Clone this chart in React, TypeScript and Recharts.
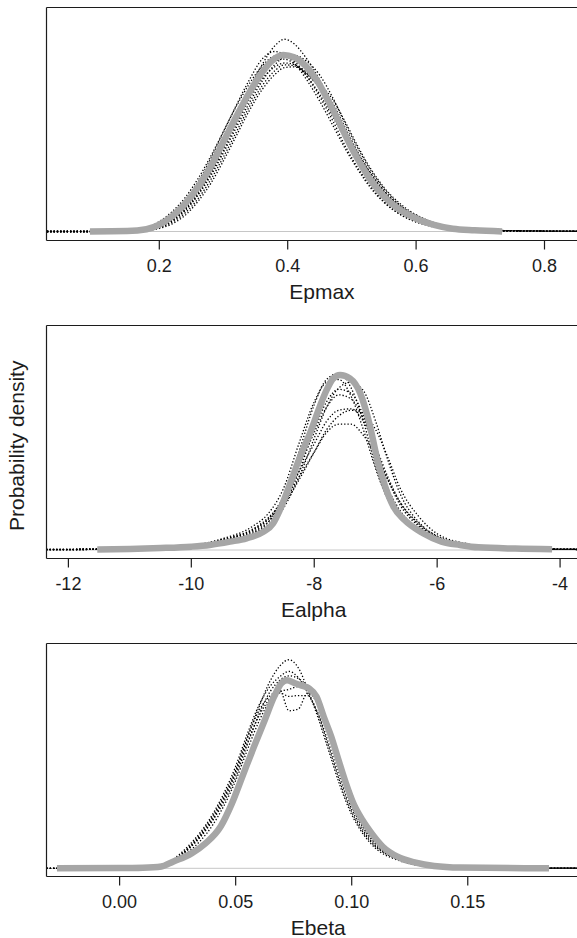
import React from "react";
import { LineChart, Line, XAxis, YAxis, ReferenceLine } from "recharts";

const FONT = "Arial, 'Liberation Sans', Helvetica, sans-serif";
const INK = "#1c1c1c";
const POSTERIOR = "#a6a6a6";

// ---- Epmax ----
const epmaxTicks = [0.2, 0.4, 0.6, 0.8];
const epmaxPostX = [0.092, 0.15, 0.18, 0.2, 0.22, 0.24, 0.26, 0.28, 0.3, 0.32, 0.34, 0.36, 0.375, 0.393, 0.41, 0.428, 0.445, 0.462, 0.479, 0.496, 0.513, 0.531, 0.548, 0.571, 0.6, 0.628, 0.657, 0.691, 0.734];
const epmaxPostY = [0, 0.01, 0.06, 0.18, 0.4, 0.72, 1.15, 1.7, 2.35, 3.0, 3.62, 4.15, 4.45, 4.61, 4.55, 4.32, 3.96, 3.45, 2.89, 2.3, 1.78, 1.3, 0.95, 0.61, 0.34, 0.17, 0.07, 0.03, 0];
const epmaxGrid = [0.025, 0.1, 0.15, 0.18, 0.2, 0.22, 0.24, 0.26, 0.28, 0.3, 0.32, 0.34, 0.36, 0.38, 0.395, 0.41, 0.43, 0.45, 0.47, 0.49, 0.51, 0.53, 0.55, 0.58, 0.62, 0.66, 0.72, 0.917];
const epmaxRun1 = [0, 0, 0.01, 0.05, 0.13, 0.3, 0.58, 1.0, 1.55, 2.2, 2.95, 3.7, 4.35, 4.85, 5.02, 4.9, 4.5, 3.95, 3.25, 2.55, 1.9, 1.35, 0.92, 0.5, 0.2, 0.08, 0.02, 0];
const epmaxRun2 = [0, 0, 0.02, 0.08, 0.2, 0.42, 0.78, 1.28, 1.9, 2.6, 3.3, 3.95, 4.5, 4.7, 4.62, 4.4, 3.95, 3.4, 2.78, 2.15, 1.6, 1.12, 0.76, 0.4, 0.16, 0.06, 0.015, 0];
const epmaxRun3 = [0, 0, 0.01, 0.04, 0.1, 0.24, 0.48, 0.85, 1.35, 1.95, 2.6, 3.25, 3.8, 4.2, 4.35, 4.33, 4.1, 3.75, 3.35, 2.7, 2.05, 1.5, 1.05, 0.6, 0.26, 0.1, 0.03, 0];
const epmaxRun4 = [0, 0, 0.01, 0.04, 0.11, 0.28, 0.56, 0.95, 1.45, 2.06, 2.72, 3.35, 3.92, 4.36, 4.55, 4.6, 4.44, 4.08, 3.5, 2.8, 2.15, 1.58, 1.12, 0.62, 0.28, 0.1, 0.03, 0];
const epmaxRun5 = [0, 0, 0.02, 0.09, 0.26, 0.52, 0.88, 1.37, 1.96, 2.62, 3.27, 3.85, 4.32, 4.58, 4.6, 4.45, 4.05, 3.52, 2.9, 2.22, 1.64, 1.16, 0.78, 0.4, 0.15, 0.05, 0.01, 0];
const epmaxRun6 = [0, 0, 0.01, 0.03, 0.08, 0.2, 0.42, 0.78, 1.25, 1.85, 2.5, 3.15, 3.7, 4.1, 4.28, 4.3, 4.12, 3.75, 3.22, 2.62, 2.02, 1.5, 1.06, 0.6, 0.26, 0.1, 0.03, 0];
const epmaxRun7 = [0, 0, 0.01, 0.05, 0.14, 0.32, 0.62, 1.05, 1.62, 2.28, 2.98, 3.65, 4.15, 4.45, 4.5, 4.38, 4.05, 3.58, 3.0, 2.4, 1.83, 1.33, 0.93, 0.52, 0.21, 0.08, 0.02, 0];
const epmaxRun8 = [0, 0, 0.01, 0.04, 0.11, 0.27, 0.54, 0.95, 1.5, 2.12, 2.8, 3.45, 3.98, 4.3, 4.4, 4.36, 4.15, 3.85, 3.45, 2.85, 2.2, 1.62, 1.15, 0.66, 0.28, 0.11, 0.03, 0];

// ---- Ealpha ----
const ealphaTicks = [-12, -10, -8, -6, -4];
const ealphaPostX = [-11.53, -11.0, -10.5, -10.0, -9.7, -9.37, -9.1, -8.83, -8.67, -8.56, -8.39, -8.23, -8.07, -7.91, -7.8, -7.69, -7.58, -7.42, -7.25, -7.1, -6.98, -6.85, -6.71, -6.53, -6.23, -5.93, -5.63, -5.33, -4.73, -4.13];
const ealphaPostY = [0.002, 0.004, 0.007, 0.012, 0.018, 0.03, 0.042, 0.065, 0.095, 0.143, 0.239, 0.334, 0.417, 0.513, 0.572, 0.614, 0.626, 0.614, 0.56, 0.45, 0.33, 0.23, 0.155, 0.107, 0.06, 0.03, 0.018, 0.0095, 0.005, 0.003];
const ealphaGrid = [-12.36, -11.0, -10.0, -9.5, -9.0, -8.75, -8.5, -8.25, -8.0, -7.8, -7.6, -7.4, -7.2, -7.0, -6.8, -6.6, -6.3, -6.0, -5.5, -5.0, -4.5, -3.03];
const ealphaRun1 = [0.001, 0.004, 0.012, 0.03, 0.06, 0.1, 0.19, 0.35, 0.52, 0.61, 0.632, 0.58, 0.46, 0.3, 0.18, 0.115, 0.065, 0.035, 0.015, 0.007, 0.004, 0.001];
const ealphaRun2 = [0.002, 0.005, 0.014, 0.03, 0.055, 0.085, 0.15, 0.26, 0.4, 0.51, 0.58, 0.6, 0.57, 0.46, 0.32, 0.2, 0.1, 0.05, 0.02, 0.009, 0.004, 0.002];
const ealphaRun3 = [0.001, 0.004, 0.013, 0.035, 0.07, 0.11, 0.19, 0.3, 0.42, 0.51, 0.555, 0.54, 0.47, 0.36, 0.25, 0.16, 0.085, 0.042, 0.017, 0.008, 0.004, 0.001];
const ealphaRun4 = [0.002, 0.005, 0.015, 0.038, 0.075, 0.115, 0.18, 0.28, 0.38, 0.46, 0.5, 0.505, 0.46, 0.37, 0.26, 0.17, 0.09, 0.045, 0.018, 0.009, 0.004, 0.002];
const ealphaRun5 = [0.001, 0.004, 0.014, 0.036, 0.072, 0.11, 0.17, 0.26, 0.35, 0.42, 0.45, 0.45, 0.41, 0.34, 0.25, 0.17, 0.095, 0.048, 0.02, 0.009, 0.004, 0.001];
const ealphaRun6 = [0.001, 0.004, 0.012, 0.03, 0.058, 0.09, 0.16, 0.28, 0.43, 0.53, 0.575, 0.56, 0.48, 0.34, 0.22, 0.14, 0.075, 0.038, 0.016, 0.008, 0.004, 0.001];
const ealphaRun7 = [0.001, 0.005, 0.016, 0.04, 0.085, 0.13, 0.22, 0.38, 0.53, 0.6, 0.61, 0.55, 0.43, 0.29, 0.18, 0.12, 0.07, 0.036, 0.016, 0.008, 0.004, 0.001];
const ealphaRun8 = [0.002, 0.005, 0.014, 0.034, 0.065, 0.1, 0.16, 0.25, 0.35, 0.43, 0.48, 0.5, 0.49, 0.43, 0.33, 0.22, 0.12, 0.058, 0.022, 0.01, 0.005, 0.002];

// ---- Ebeta ----
const ebetaTicks = [0, 0.05, 0.1, 0.15];
const ebetaPostX = [-0.027, 0.0, 0.01, 0.018, 0.023, 0.031, 0.037, 0.0436, 0.0483, 0.0531, 0.0579, 0.0626, 0.0666, 0.0698, 0.0721, 0.0753, 0.0785, 0.0816, 0.0848, 0.088, 0.0912, 0.0943, 0.0975, 0.1007, 0.1046, 0.1086, 0.1134, 0.1197, 0.1276, 0.1355, 0.1467, 0.185];
const ebetaPostY = [0, 0.02, 0.06, 0.2, 0.74, 1.67, 2.79, 4.7, 7.2, 10.4, 13.6, 16.6, 19.2, 20.7, 21.0, 20.7, 20.4, 20.1, 19.2, 16.9, 14.7, 12.1, 9.5, 7.26, 5.4, 3.9, 2.41, 1.3, 0.63, 0.26, 0.08, 0];
const ebetaGrid = [-0.0315, 0.0, 0.01, 0.02, 0.03, 0.04, 0.05, 0.055, 0.06, 0.065, 0.069, 0.073, 0.077, 0.081, 0.085, 0.09, 0.095, 0.1, 0.105, 0.11, 0.12, 0.13, 0.15, 0.2155];
const ebetaRun1 = [0, 0.02, 0.1, 0.5, 2.3, 5.6, 10.8, 14.5, 18.0, 21.0, 22.6, 23.3, 22.4, 20.0, 17.2, 13.2, 9.2, 6.0, 3.8, 2.3, 0.9, 0.3, 0.05, 0];
const ebetaRun2 = [0, 0.02, 0.1, 0.55, 2.4, 5.8, 11.0, 14.6, 17.6, 19.3, 19.9, 17.6, 17.8, 19.6, 18.5, 15.0, 10.8, 7.0, 4.5, 2.8, 1.0, 0.35, 0.05, 0];
const ebetaRun3 = [0, 0.03, 0.12, 0.6, 2.6, 6.0, 11.4, 15.0, 18.2, 20.4, 21.4, 22.0, 21.3, 19.6, 17.5, 13.6, 9.6, 6.3, 4.0, 2.5, 1.0, 0.35, 0.06, 0];
const ebetaRun4 = [0, 0.02, 0.08, 0.4, 1.9, 4.8, 9.8, 13.2, 16.4, 18.8, 19.7, 20.0, 20.3, 20.0, 18.9, 16.0, 12.2, 8.3, 5.5, 3.5, 1.4, 0.5, 0.08, 0];
const ebetaRun5 = [0, 0.02, 0.1, 0.5, 2.3, 5.4, 10.6, 14.0, 17.0, 19.0, 19.6, 19.2, 19.3, 19.3, 17.6, 14.0, 10.0, 6.6, 4.2, 2.6, 1.0, 0.3, 0.05, 0];
const ebetaRun6 = [0, 0.02, 0.1, 0.5, 2.2, 5.3, 10.2, 13.8, 17.2, 19.8, 21.0, 21.5, 21.2, 20.3, 18.6, 15.0, 11.0, 7.2, 4.6, 2.9, 1.1, 0.4, 0.06, 0];

type Pt = { x: number; y: number };
const pts = (xs: number[], ys: number[]): Pt[] => xs.map((x, i) => ({ x, y: ys[i] }));

const AxisTitle = ({ text, shift }: any) => (
  <text x={318.25 + shift} y={298.5} textAnchor="middle" fontSize={21} fill={INK}>
    {text}
  </text>
);

const SideTitle = ({ text }: any) => (
  <text x={24} y={127.8} textAnchor="middle" fontSize={21} fill={INK} transform="rotate(-90, 24, 127.8)">
    {text}
  </text>
);

interface PanelProps {
  top: number;
  title: string;
  titleShift: number;
  xDomain: [number, number];
  yDomain: [number, number];
  ticks: number[];
  fmt: (v: number) => string;
  grid: number[];
  runs: number[][];
  postX: number[];
  postY: number[];
  sideLabel?: string;
}

function Panel({ top, title, titleShift, xDomain, yDomain, ticks, fmt, grid, runs, postX, postY, sideLabel }: PanelProps) {
  return (
    <div style={{ position: "absolute", top, left: 0 }}>
      <LineChart width={620} height={318} margin={{ top: 7.5, right: 0, bottom: 0, left: 0 }}>
        <XAxis
          dataKey="x"
          type="number"
          domain={xDomain}
          allowDataOverflow
          ticks={ticks}
          interval={0}
          tickFormatter={fmt}
          height={77.5}
          tickSize={9}
          tickMargin={10}
          axisLine={{ stroke: INK, strokeWidth: 1.2 }}
          tickLine={{ stroke: INK, strokeWidth: 1.2 }}
          tick={{ fontSize: 18, fill: INK }}
          label={<AxisTitle text={title} shift={titleShift} />}
        />
        <YAxis
          type="number"
          domain={yDomain}
          allowDataOverflow
          width={46.5}
          tick={false}
          tickLine={false}
          axisLine={{ stroke: INK, strokeWidth: 1.2 }}
          label={sideLabel ? <SideTitle text={sideLabel} /> : undefined}
        />
        <ReferenceLine y={yDomain[1]} stroke={INK} strokeWidth={1.2} />
        <ReferenceLine y={0} stroke="#c6c6c6" strokeWidth={1} />
        {runs.map((r, i) => (
          <Line
            key={i}
            data={pts(grid, r)}
            dataKey="y"
            type="monotone"
            stroke="#000"
            strokeWidth={1.3}
            strokeDasharray="1.3 2"
            dot={false}
            isAnimationActive={false}
          />
        ))}
        <Line
          data={pts(postX, postY)}
          dataKey="y"
          type="monotone"
          stroke={POSTERIOR}
          strokeWidth={6.5}
          dot={false}
          isAnimationActive={false}
        />
      </LineChart>
    </div>
  );
}

export default function App() {
  return (
    <div
      style={{
        position: "absolute",
        top: 0,
        left: 0,
        width: 577,
        height: 938,
        overflow: "hidden",
        background: "#fff",
        fontFamily: FONT,
      }}
    >
      <Panel
        top={0}
        title="Epmax"
        titleShift={3.7}
        xDomain={[0.0243, 0.9176]}
        yDomain={[-0.235, 5.849]}
        ticks={epmaxTicks}
        fmt={(v) => v.toFixed(1)}
        grid={epmaxGrid}
        runs={[epmaxRun1, epmaxRun2, epmaxRun3, epmaxRun4, epmaxRun5, epmaxRun6, epmaxRun7, epmaxRun8]}
        postX={epmaxPostX}
        postY={epmaxPostY}
      />
      <Panel
        top={318}
        title="Ealpha"
        titleShift={-4.6}
        xDomain={[-12.3563, -3.025]}
        yDomain={[-0.0304, 0.8032]}
        ticks={ealphaTicks}
        fmt={(v) => String(v)}
        grid={ealphaGrid}
        runs={[ealphaRun1, ealphaRun2, ealphaRun3, ealphaRun4, ealphaRun5, ealphaRun6, ealphaRun7, ealphaRun8]}
        postX={ealphaPostX}
        postY={ealphaPostY}
        sideLabel="Probability density"
      />
      <Panel
        top={636}
        title="Ebeta"
        titleShift={0}
        xDomain={[-0.0315, 0.21559]}
        yDomain={[-0.916, 25.118]}
        ticks={ebetaTicks}
        fmt={(v) => v.toFixed(2)}
        grid={ebetaGrid}
        runs={[ebetaRun1, ebetaRun2, ebetaRun3, ebetaRun4, ebetaRun5, ebetaRun6]}
        postX={ebetaPostX}
        postY={ebetaPostY}
      />
    </div>
  );
}
